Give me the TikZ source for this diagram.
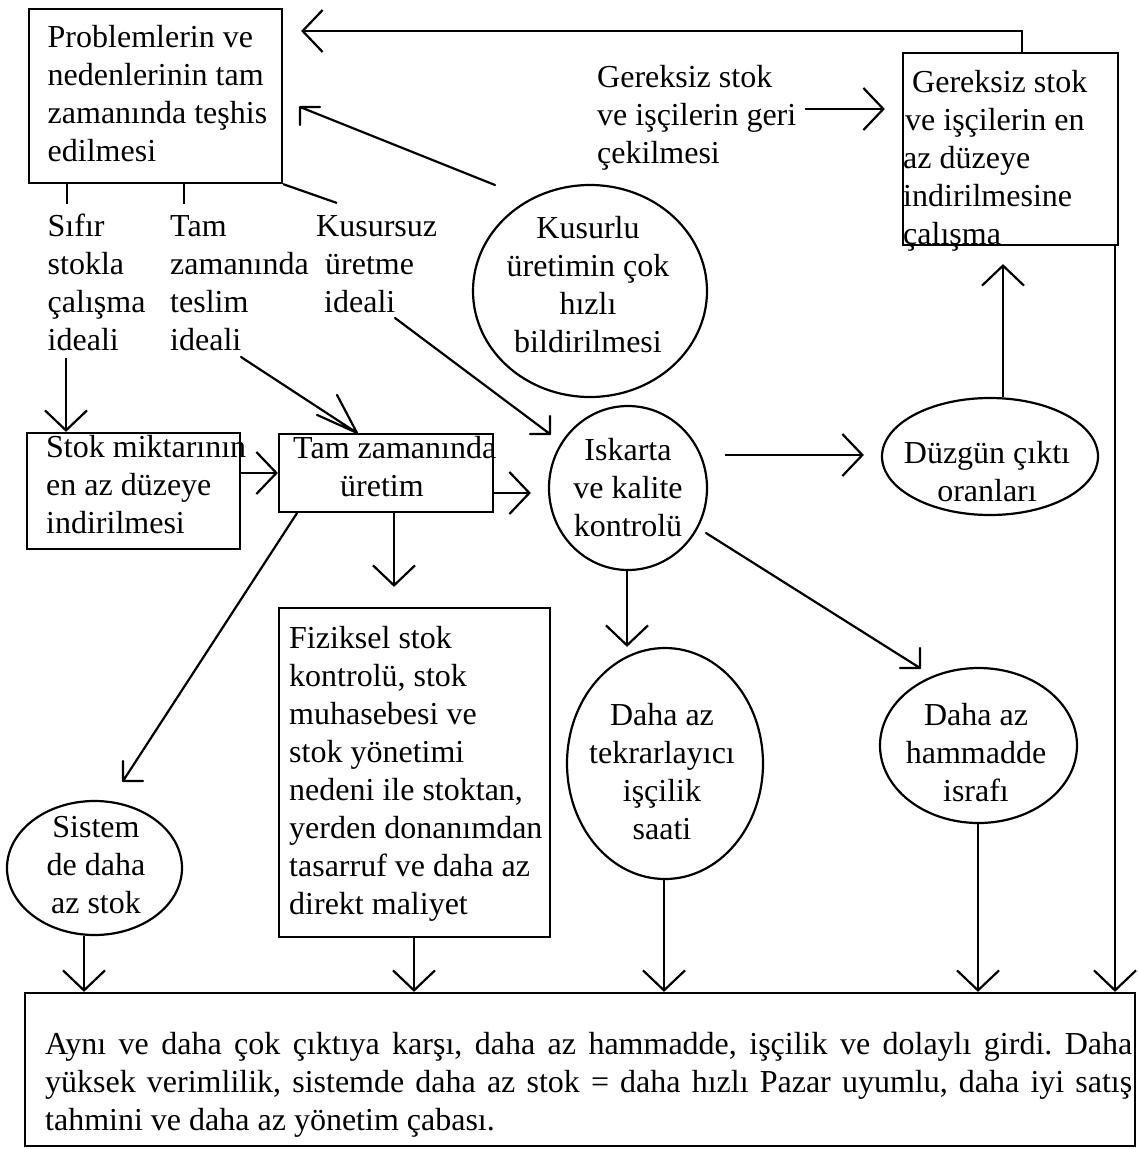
\documentclass[tikz,border=0pt]{standalone}
\usepackage{fontspec}
\setmainfont{Liberation Serif}
\usetikzlibrary{arrows.meta,shapes.geometric,calc}
\newcommand\tfs{\fontsize{32}{38}\selectfont\frenchspacing}

\begin{document}
\begin{tikzpicture}[x=1pt,y=-1pt,
  ln/.style={line width=2.2pt},
  arr/.style={ln,-{Straight Barb[length=20pt,width=42pt]}},
  barbln/.style={ln,line cap=round,line join=round},
  rbox/.style={draw,ln,rectangle,inner sep=0pt},
  oval/.style={draw,ln,ellipse,inner sep=0pt},
  txt/.style={inner sep=0pt,font=\tfs,align=left,anchor=north west},
  ctxt/.style={inner sep=0pt,font=\tfs,align=center,anchor=north}]

\fill[white] (0,0) rectangle (1138,1149);
\useasboundingbox (0,0) rectangle (1138,1149);

% boxes
\node[rbox,minimum width=253pt,minimum height=174pt] (pbox) at (155.5,96) {};
\node[rbox,minimum width=215pt,minimum height=192pt] (gbox) at (1010.5,149) {};
\node[rbox,minimum width=213pt,minimum height=116pt] (stok) at (133.5,491) {};
\node[rbox,minimum width=214pt,minimum height=78pt] (tam) at (386,473) {};
\node[rbox,minimum width=271pt,minimum height=329pt] (fiz) at (414.5,772.5) {};
\node[rbox,minimum width=1110pt,minimum height=153pt] (bottom) at (580,1069.5) {};

% ovals
\node[oval,minimum width=234pt,minimum height=212pt] (kusurlu) at (590,291) {};
\node[oval,minimum width=158pt,minimum height=164pt] (iskarta) at (628,488) {};
\node[oval,minimum width=216pt,minimum height=117pt] (duzgun) at (990,456.5) {};
\node[oval,minimum width=196pt,minimum height=231pt] (tekrar) at (665,763.5) {};
\node[oval,minimum width=197pt,minimum height=155pt] (hammadde) at (978.5,745.5) {};
\node[oval,minimum width=175pt,minimum height=134pt] (sistem) at (94.5,868) {};

% texts
\node[txt] (ptxt) at (47.5,20.4) {\strut Problemlerin ve\\nedenlerinin tam\\zamanında teşhis\\edilmesi};
\node[txt] (gtxt) at (597,60.4) {\strut Gereksiz stok\\ve işçilerin geri\\çekilmesi};
\node[txt] (gboxtxt) at (903,65.4) {\strut\hspace*{9pt}Gereksiz stok\\\hspace*{2pt}ve işçilerin en\\az düzeye\\indirilmesine\\çalışma};
\node[txt] (sifir) at (47.5,209.4) {\strut Sıfır\\stokla\\çalışma\\ideali};
\node[txt] (tamideal) at (170,209.4) {\strut Tam\\zamanında\\teslim\\ideali};
\node[txt] (kusursuz) at (316,209.4) {\strut Kusursuz\\\hspace*{9pt}üretme\\\hspace*{8pt}ideali};
\node[ctxt] (kusurlutxt) at (588,211.4) {\strut Kusurlu\\üretimin çok\\hızlı\\bildirilmesi};
\node[txt] (stoktxt) at (46,430.4) {\strut Stok miktarının\\en az düzeye\\indirilmesi};
\node[txt] (tamtxt) at (293,431.4) {\strut Tam zamanında\\\hspace*{47pt}üretim};
\node[ctxt] (iskartatxt) at (628,433.4) {\strut Iskarta\\ve kalite\\kontrolü};
\node[ctxt] (duzguntxt) at (987,436.4) {\strut Düzgün çıktı\\oranları};
\node[txt] (fiztxt) at (289,621.4) {\strut Fiziksel stok\\kontrolü, stok\\muhasebesi ve\\stok yönetimi\\nedeni ile stoktan,\\yerden donanımdan\\tasarruf ve daha az\\direkt maliyet};
\node[ctxt] (tekrartxt) at (662,698.4) {\strut Daha az\\tekrarlayıcı\\işçilik\\saati};
\node[ctxt] (hammaddetxt) at (976,698.4) {\strut Daha az\\hammadde\\israfı};
\node[ctxt] (sistemtxt) at (96,810.4) {\strut Sistem\\de daha\\az stok};
\node[txt] (sumtxt) at (45,1027.4) {\strut\makebox[1087pt][s]{Aynı ve daha çok çıktıya karşı, daha az hammadde, işçilik ve dolaylı girdi. Daha}\\\makebox[1087pt][s]{yüksek verimlilik, sistemde daha az stok = daha hızlı Pazar uyumlu, daha iyi satış}\\tahmini ve daha az yönetim çabası.};

% free ends of the slanted connectors
\coordinate (ku-out) at (495,185);
\coordinate (p-in) at (300,107);
\coordinate (kus-top) at (337,203);
\coordinate (tl-out) at (241,357);
\coordinate (ks-out) at (395,318);
\coordinate (isk-in) at (550,434);
\coordinate (sis-in) at (123,781);
\coordinate (isk-out) at (706,533);
\coordinate (ham-in) at (920,668);

% feedback along the top
\draw[arr,shorten >=18pt] (gbox.north -| 1022,0) |- (pbox.east |- 0,31);
\draw[arr,shorten <=9pt,shorten >=17pt] (gtxt.east |- 0,109) -- (gbox.west |- 0,109);
\draw[barbln] (ku-out) -- (p-in) -- +(20,0) (p-in) -- +(0,18);

% from the diagnosis box to the three ideals
\draw[ln] (pbox.south east) -- (kus-top);
\draw[ln] (pbox.south -| 67,0) -- ++(0,20);
\draw[ln] (pbox.south -| 184,0) -- ++(0,20);

% ideals to the production blocks
\draw[arr,shorten <=7pt] (sifir.south -| 66,0) -- (stok.north -| 66,0);
\draw[barbln] (tl-out) -- (tam.north -| 357,0) -- +(-20,-38) (tam.north -| 357,0) -- +(-40,-18);
\draw[barbln] (ks-out) -- (isk-in) -- +(0,-18) (isk-in) -- +(-20,0);

% middle row
\draw[arr] (stok.east |- 0,473) -- (tam.west |- 0,473);
\draw[arr,shorten >=17pt] (tam.east |- 0,493) -- (iskarta.west |- 0,493);
\draw[arr,shorten >=20pt] (tam.south -| 394,0) -- (fiz.north -| 394,0);
\draw[barbln] (tam.south -| 297,0) -- (sis-in) -- +(0,-20) (sis-in) -- +(20,0);
\draw[arr,shorten <=17pt,shorten >=17pt] (iskarta.east |- 0,455) -- (duzgun.west |- 0,455);
\draw[arr] (iskarta.south -| 627,0) -- (tekrar.north -| 627,0);
\draw[barbln] (isk-out) -- (ham-in) -- +(0,-20) (ham-in) -- +(-20,0);
\draw[arr,shorten >=18pt] (duzgun.north -| 1003,0) -- (gbox.south -| 1003,0);

% everything feeds the result box
\draw[arr] (sistem.south -| 84,0) -- (bottom.north -| 84,0);
\draw[arr] (fiz.south -| 414,0) -- (bottom.north -| 414,0);
\draw[arr] (tekrar.south -| 664,0) -- (bottom.north -| 664,0);
\draw[arr] (hammadde.south -| 978,0) -- (bottom.north -| 978,0);
\draw[arr] (gbox.south -| 1115,0) -- (bottom.north -| 1115,0);
\end{tikzpicture}
\end{document}
